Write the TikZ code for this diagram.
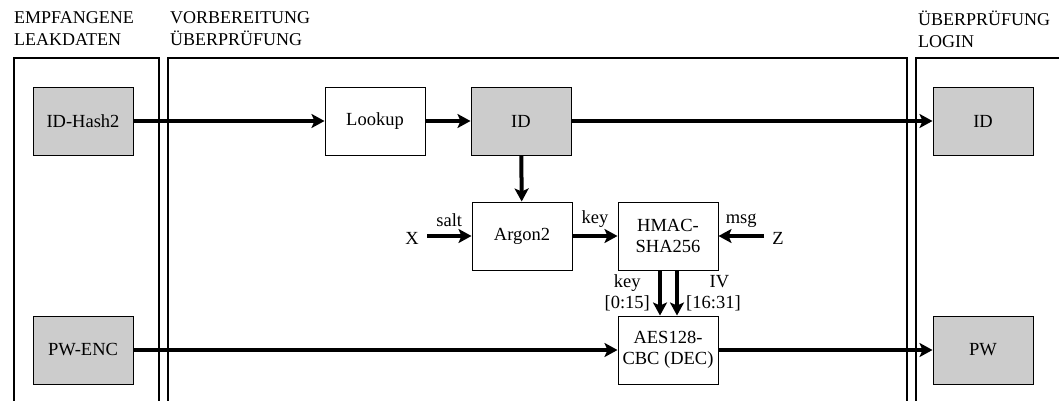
\documentclass[tikz,border=0pt]{standalone}
\usepackage{fontspec}
\setmainfont{Liberation Serif}
\usetikzlibrary{arrows.meta}
\begin{document}
\begin{tikzpicture}[x=1pt,y=-1pt,
  font=\fontsize{18.5}{21}\selectfont,
  panel/.style={line width=1.3pt},
  box/.style={draw,line width=1pt,minimum width=100pt,minimum height=68pt,align=center,inner sep=2pt},
  data/.style={box,fill=black!20},
  flow/.style={line width=4pt,-{Stealth[length=13pt,width=14pt,inset=3pt]}},
  lbl/.style={inner sep=1pt,align=center},
  head/.style={anchor=north west,align=left,inner sep=0pt,font=\fontsize{18}{22}\selectfont}]
\useasboundingbox (0,0) rectangle (1059,400);

% column frames, open at the bottom
\draw[panel] (14,401) -- (14,58) -- (159,58) -- (159,401);
\draw[panel] (168,401) -- (168,58) -- (907,58) -- (907,401);
\draw[panel] (916,401) -- (916,58) -- (1060,58);

% column headings
\node[head] (h1) at (14,11) {EMPFANGENE\\LEAKDATEN};
\node[head] (h2) at (170,11) {VORBEREITUNG\\ÜBERPRÜFUNG};
\node[head] (h3) at (918,11) {ÜBERPRÜFUNG\\LOGIN};

% blocks
\node[data] (hash)   at (83,121)  {ID-Hash2};
\node[box]  (lookup) at (375,121) {Lookup};
\node[data] (id)     at (521,121) {ID};
\node[data] (idr)    at (983,121) {ID};
\node[box]  (argon)  at (522,236) {Argon2};
\node[box]  (hmac)   at (668,236) {HMAC-\\SHA256};
\node[box]  (aes)    at (668,350) {AES128-\\CBC (DEC)};
\node[data] (pwenc)  at (83,350)  {PW-ENC};
\node[data] (pw)     at (983,350) {PW};

% external inputs
\node[lbl] (x) at (412,238) {X};
\node[lbl] (z) at (778,238) {Z};
\coordinate (xs) at (427,236);
\coordinate (zs) at (764,236);

% connections
\draw[flow] (hash) -- (lookup);
\draw[flow] (lookup) -- (id);
\draw[flow] (id) -- (idr);
\draw[flow] (id) -- (argon);
\draw[flow] (xs) -- (argon.west)
  node[lbl,midway,above=6pt] (salt) {salt};
\draw[flow] (argon) -- (hmac)
  node[lbl,midway,above=6pt] (keylbl) {key};
\draw[flow] (zs) -- (hmac.east)
  node[lbl,midway,above=6pt] (msg) {msg};
\draw[flow] ([xshift=-8pt]hmac.south) -- ([xshift=-8pt]aes.north);
\draw[flow] ([xshift=9pt]hmac.south) -- ([xshift=9pt]aes.north);
\node[lbl,anchor=east,align=center] (klbl) at (651,293) {key\\{}[0:15]};
\node[lbl,anchor=west,align=center] (ivlbl) at (685,293) {\hspace{12pt}IV\\{}[16:31]};
\draw[flow] (pwenc) -- (aes);
\draw[flow] (aes) -- (pw);
\end{tikzpicture}
\end{document}
